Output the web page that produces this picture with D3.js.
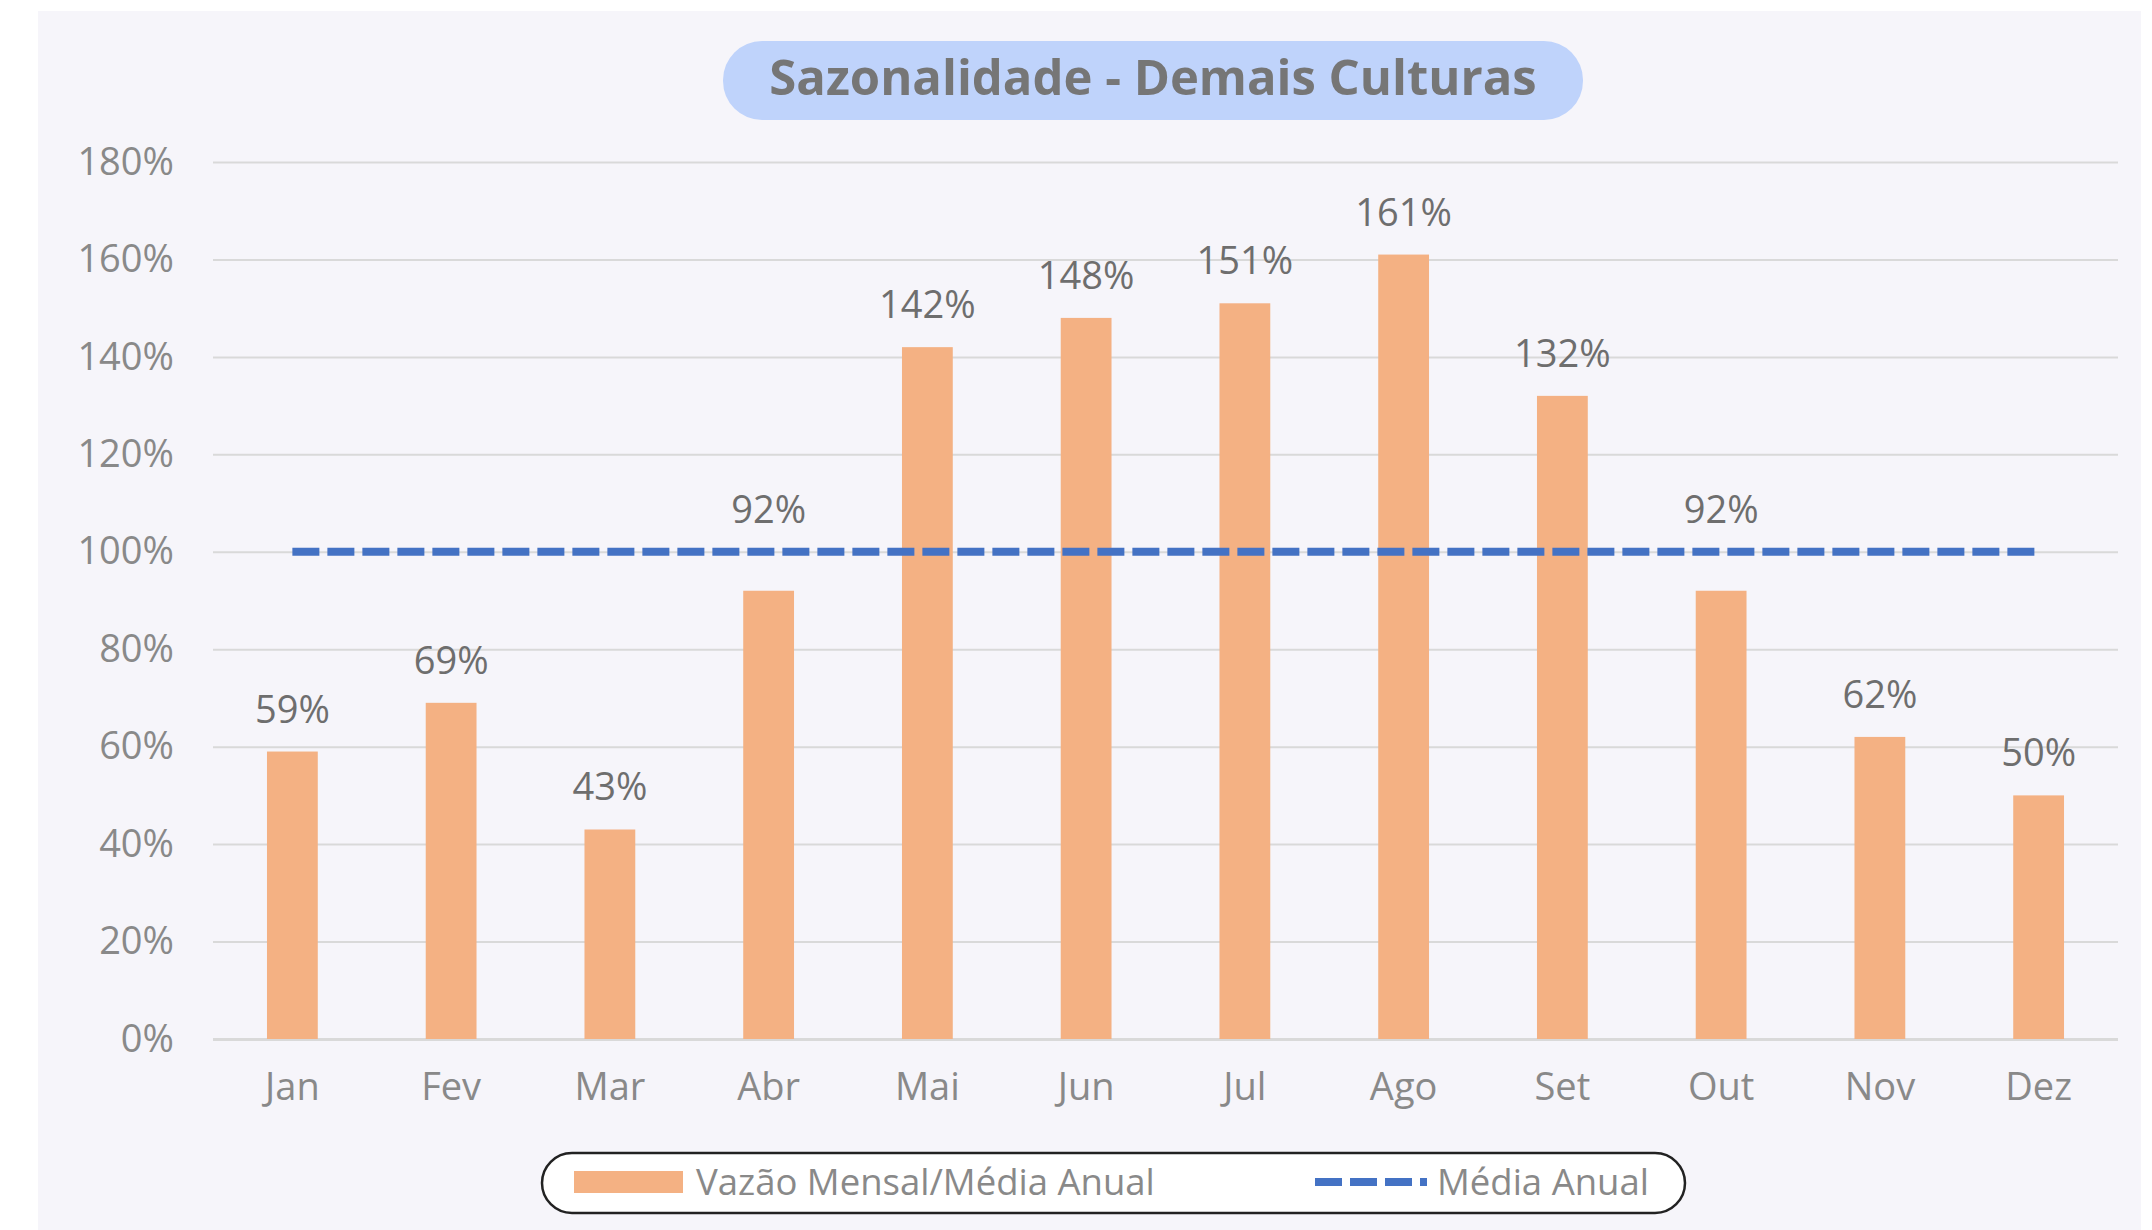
<!DOCTYPE html>
<html>
<head>
<meta charset="utf-8">
<script src="https://cdn.jsdelivr.net/npm/d3@7"></script>
<style>
  body { margin: 0; background: #ffffff; }
  text { font-family: "Open Sans", "Noto Sans", sans-serif; }
</style>
</head>
<body>
<script>
var svg_Width = 2152;
var svg_Height = 1230;

// chart data
var months = ["Jan", "Fev", "Mar", "Abr", "Mai", "Jun", "Jul", "Ago", "Set", "Out", "Nov", "Dez"];
var ratios = [59, 69, 43, 92, 142, 148, 151, 161, 132, 92, 62, 50];
var annualMean = [100, 100, 100, 100, 100, 100, 100, 100, 100, 100, 100, 100];
var yTicks = [0, 20, 40, 60, 80, 100, 120, 140, 160, 180];
var chartTitle = "Sazonalidade - Demais Culturas";
var legendLabels = ["Vazão Mensal/Média Anual", "Média Anual"];

var svg = d3.select("body")
  .append("svg")
  .attr("width", svg_Width)
  .attr("height", svg_Height);

// panel background
svg.append("rect")
  .attr("x", 38).attr("y", 11)
  .attr("width", 2103).attr("height", 1230)
  .attr("fill", "#f6f5fa");

var plot = { left: 213, right: 2118, top: 162, bottom: 1039 };

var xScale = d3.scaleBand()
  .domain(months)
  .range([plot.left, plot.right])
  .paddingInner(0.68)
  .paddingOuter(0.34);

var yScale = d3.scaleLinear()
  .domain([0, 180])
  .range([plot.bottom, plot.top]);

// gridlines + y labels
var yAxis = d3.axisLeft(yScale)
  .tickValues(yTicks)
  .tickSize(-(plot.right - plot.left))
  .tickPadding(39)
  .tickFormat(d => d + "%");

var yG = svg.append("g")
  .attr("transform", `translate(${plot.left},0)`)
  .call(yAxis);
yG.select(".domain").remove();
yG.selectAll(".tick line")
  .attr("stroke", "#d9d9d9")
  .attr("stroke-width", d => d === 0 ? 3 : 2);
yG.selectAll(".tick text")
  .attr("fill", "#898989")
  .attr("font-size", 38);

// x labels
var xAxis = d3.axisBottom(xScale).tickSize(0).tickPadding(34);
var xG = svg.append("g")
  .attr("transform", `translate(0,${plot.bottom})`)
  .call(xAxis);
xG.select(".domain").remove();
xG.selectAll(".tick text")
  .attr("fill", "#898989")
  .attr("font-size", 38);

// bars
svg.selectAll(".bar")
  .data(ratios)
  .enter()
  .append("rect")
  .attr("class", "bar")
  .attr("x", (d, i) => xScale(months[i]))
  .attr("y", d => yScale(d))
  .attr("width", xScale.bandwidth())
  .attr("height", d => yScale(0) - yScale(d))
  .attr("fill", "#f4b183");

// value labels - lifted above the mean line when they would sit on it
function labelBase(d, i) {
  var m = annualMean[i];
  return (d < m && d > m - 15) ? m : d;
}
svg.selectAll(".val")
  .data(ratios)
  .enter()
  .append("text")
  .attr("class", "val")
  .attr("x", (d, i) => xScale(months[i]) + xScale.bandwidth() / 2)
  .attr("y", (d, i) => yScale(labelBase(d, i)) - 29)
  .attr("text-anchor", "middle")
  .attr("fill", "#6e6e6e")
  .attr("font-size", 38)
  .text(d => d + "%");

// annual mean dashed line
var line = d3.line()
  .x((d, i) => xScale(months[i]) + xScale.bandwidth() / 2)
  .y(d => yScale(d));

svg.append("path")
  .datum(annualMean)
  .attr("d", line)
  .attr("fill", "none")
  .attr("stroke", "#4472c4")
  .attr("stroke-width", 8)
  .attr("stroke-dasharray", "27,8");

// title pill
var title = svg.append("g");
title.append("rect")
  .attr("x", 723).attr("y", 41)
  .attr("width", 860).attr("height", 79)
  .attr("rx", 39).attr("ry", 39)
  .attr("fill", "#bfd3fb");
title.append("text")
  .attr("x", 1153).attr("y", 95)
  .attr("text-anchor", "middle")
  .attr("font-size", 49)
  .attr("font-weight", "bold")
  .attr("fill", "#767676")
  .text(chartTitle);

// legend
var legend = svg.append("g");
legend.append("rect")
  .attr("x", 542).attr("y", 1153)
  .attr("width", 1143).attr("height", 60)
  .attr("rx", 30).attr("ry", 30)
  .attr("fill", "#ffffff")
  .attr("stroke", "#222")
  .attr("stroke-width", 2.5);
legend.append("rect")
  .attr("x", 574).attr("y", 1171)
  .attr("width", 109).attr("height", 22)
  .attr("fill", "#f4b183");
legend.append("text")
  .attr("x", 696).attr("y", 1195)
  .attr("font-size", 36.5)
  .attr("fill", "#898989")
  .text(legendLabels[0]);
legend.append("line")
  .attr("x1", 1315).attr("x2", 1427)
  .attr("y1", 1182).attr("y2", 1182)
  .attr("stroke", "#4472c4")
  .attr("stroke-width", 8)
  .attr("stroke-dasharray", "27,8");
legend.append("text")
  .attr("x", 1437).attr("y", 1195)
  .attr("font-size", 36.5)
  .attr("fill", "#898989")
  .text(legendLabels[1]);
</script>
</body>
</html>
